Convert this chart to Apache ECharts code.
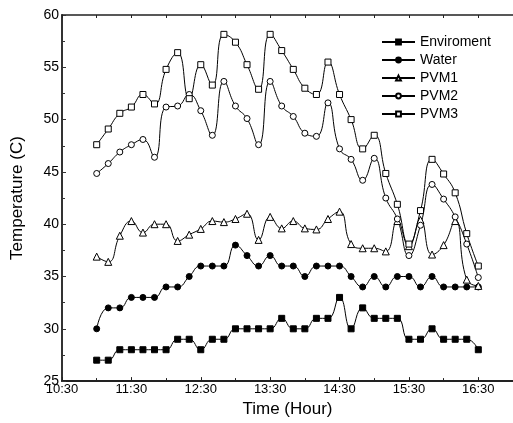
<!DOCTYPE html>
<html>
<head>
<meta charset="utf-8">
<script src="https://cdn.jsdelivr.net/npm/echarts@6/dist/echarts.min.js"></script>
<style>
  html, body { margin: 0; padding: 0; background: #fff; }
</style>
</head>
<body>
<div id="box" style="width: 513px; height: 423px"></div>
<script>
// sample times, every 10 minutes
var times = [
  "11:00", "11:10", "11:20", "11:30", "11:40", "11:50",
  "12:00", "12:10", "12:20", "12:30", "12:40", "12:50",
  "13:00", "13:10", "13:20", "13:30", "13:40", "13:50",
  "14:00", "14:10", "14:20", "14:30", "14:40", "14:50",
  "15:00", "15:10", "15:20", "15:30", "15:40", "15:50",
  "16:00", "16:10", "16:20", "16:30"
];
var xTickLabels = ["10:30", "11:30", "12:30", "13:30", "14:30", "15:30", "16:30"];
var yTickLabels = [25, 30, 35, 40, 45, 50, 55, 60];

var enviroment = [27, 27, 28, 28, 28, 28, 28, 29, 29, 28, 29, 29, 30, 30, 30, 30, 31,
  30, 30, 31, 31, 33, 30, 32, 31, 31, 31, 29, 29, 30, 29, 29, 29, 28];
var water = [30, 32, 32, 33, 33, 33, 34, 34, 35, 36, 36, 36, 38, 37, 36, 37, 36,
  36, 35, 36, 36, 36, 35, 34, 35, 34, 35, 35, 34, 35, 34, 34, 34, 34];
var pvm1 = [36.9, 36.4, 38.9, 40.3, 39.2, 40.0, 40.0, 38.4, 39.0, 39.55, 40.3, 40.2,
  40.5, 41.0, 38.5, 40.7, 39.6, 40.3, 39.6, 39.5, 40.5, 41.2, 38.1, 37.7, 37.7,
  37.4, 40.3, 37.9, 40.4, 37.1, 38.0, 40.3, 34.7, 34.1];
var pvm2 = [44.85, 45.8, 46.9, 47.6, 48.1, 46.4, 51.2, 51.3, 52.4, 50.85, 48.5, 53.65,
  51.3, 50.1, 47.6, 53.65, 51.3, 50.3, 48.7, 48.4, 51.6, 47.2, 46.2, 44.2, 46.3,
  42.5, 40.5, 37.0, 39.9, 43.8, 42.4, 40.7, 38.1, 34.9];
var pvm3 = [47.6, 49.1, 50.6, 51.2, 52.4, 51.5, 54.8, 56.4, 52.0, 55.25, 53.3, 58.15,
  57.4, 55.25, 52.9, 58.15, 56.6, 54.8, 53.0, 52.4, 55.5, 52.4, 50.0, 47.2, 48.5,
  44.85, 41.9, 38.1, 41.3, 46.2, 44.8, 43.0, 39.1, 36.0];

// minutes after 10:30
function toMin(t) {
  var p = t.split(":");
  return (+p[0]) * 60 + (+p[1]) - 630;
}
function pairs(vals) {
  return vals.map(function (v, i) { return [toMin(times[i]), v]; });
}

var font = "Liberation Sans, Arial, sans-serif";

function makeSeries(name, vals, symbol, size, filled) {
  return {
    name: name,
    type: "line",
    data: pairs(vals),
    smooth: 0.5,
    symbol: symbol,
    symbolSize: size,
    showAllSymbol: true,
    lineStyle: { color: "#000", width: 1 },
    itemStyle: {
      color: filled ? "#000" : "#fff",
      borderColor: "#000",
      borderWidth: 1
    }
  };
}

var chart = echarts.init(document.getElementById("box"));
var option = {
  animation: false,
  backgroundColor: "#fff",
  textStyle: { fontFamily: font },
  grid: { left: 62, top: 15, bottom: 40, right: -4, containLabel: false },
  legend: {
    orient: "vertical",
    left: 381,
    top: 35,
    padding: 0,
    itemGap: 4,
    itemWidth: 33,
    itemHeight: 6,
    textStyle: { fontSize: 14, color: "#000", fontFamily: font, lineHeight: 14 },
    data: ["Enviroment", "Water", "PVM1", "PVM2", "PVM3"]
  },
  xAxis: [
    {
      type: "value",
      min: 0,
      max: 390,
      interval: 60,
      name: "Time (Hour)",
      nameLocation: "middle",
      nameGap: 16,
      nameTextStyle: { fontSize: 17, color: "#000", fontFamily: font },
      splitLine: { show: false },
      axisLine: { lineStyle: { color: "#222", width: 2 } },
      axisTick: { inside: true, length: 4, lineStyle: { color: "#222" } },
      minorTick: { show: true, splitNumber: 2, length: 3, lineStyle: { color: "#222" } },
      axisLabel: {
        margin: 2,
        fontSize: 13,
        color: "#000",
        showMaxLabel: false,
        formatter: function (v) {
          var k = v / 60;
          return xTickLabels[k] !== undefined ? xTickLabels[k] : "";
        }
      }
    },
    {
      type: "value",
      position: "top",
      min: 0,
      max: 390,
      interval: 60,
      splitLine: { show: false },
      axisLine: { lineStyle: { color: "#222", width: 1.5 } },
      axisTick: { inside: true, length: 3, lineStyle: { color: "#222" } },
      minorTick: { show: true, splitNumber: 2, length: 3, lineStyle: { color: "#222" } },
      axisLabel: { show: false }
    }
  ],
  yAxis: {
    type: "value",
    min: 25,
    max: 60,
    interval: 5,
    name: "Temperature (C)",
    nameLocation: "middle",
    nameGap: 36,
    nameTextStyle: { fontSize: 17, color: "#000", fontFamily: font },
    splitLine: { show: false },
    axisLine: { show: true, lineStyle: { color: "#333", width: 2 } },
    axisTick: { show: true, inside: true, length: 4, lineStyle: { color: "#333" } },
    minorTick: { show: true, splitNumber: 2, length: 3, lineStyle: { color: "#333" } },
    axisLabel: {
      margin: 3,
      fontSize: 14,
      color: "#000",
      formatter: function (v) {
        return yTickLabels.indexOf(v) >= 0 ? String(v) : "";
      }
    }
  },
  series: [
    makeSeries("Enviroment", enviroment, "rect", 6, true),
    makeSeries("Water", water, "circle", 6, true),
    makeSeries("PVM1", pvm1, "triangle", 7, false),
    makeSeries("PVM2", pvm2, "circle", 6, false),
    makeSeries("PVM3", pvm3, "rect", 6, false)
  ]
};
chart.setOption(option);
</script>
</body>
</html>
